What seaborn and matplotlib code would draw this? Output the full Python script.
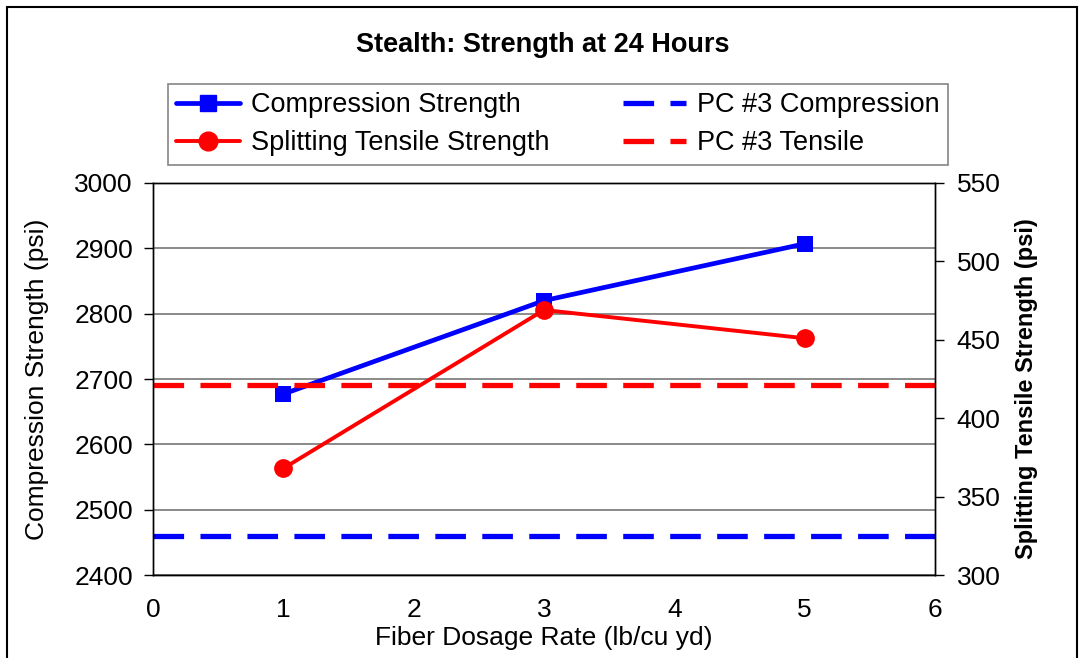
import pandas as pd
import seaborn as sns
import matplotlib.pyplot as plt
from matplotlib.patches import Rectangle
from matplotlib.lines import Line2D

# data
dosage = [1, 3, 5]
compression = [2677, 2820, 2907]
tensile = [368, 469, 451]
pc3_compression = [2460]
pc3_tensile = [421]

sns.set_style("white")
plt.rcParams['font.family'] = ['Liberation Sans', 'DejaVu Sans']
plt.rcParams['text.color'] = 'black'
plt.rcParams['axes.labelcolor'] = 'black'
plt.rcParams['xtick.color'] = 'black'
plt.rcParams['ytick.color'] = 'black'

df = pd.DataFrame({'dosage': dosage, 'compression': compression, 'tensile': tensile})

fig = plt.figure(figsize=(10.86, 6.58), dpi=100)
ax = fig.add_axes([0.1409, 0.1261, 0.7201, 0.5958])
ax2 = ax.twinx()

# grid on left axis
ax.set_ylim(2400, 3000)
ax.set_xlim(0, 6)
ax.set_yticks(range(2400, 3001, 100))
ax.set_xticks(range(0, 7))
ax.yaxis.grid(True, color='#777777', linewidth=1.2)
ax.set_axisbelow(True)
ax2.set_ylim(300, 550)
ax2.set_yticks(range(300, 551, 50))

dash = (5.8, 3.1)
ax2.axhline(pc3_tensile[0], color='#ff0000', linewidth=3.8, dashes=dash, zorder=2)
ax.axhline(pc3_compression[0], color='#0000ff', linewidth=3.8, dashes=dash, zorder=2)

sns.lineplot(data=df, x='dosage', y='compression', ax=ax, color='#0000ff',
             linewidth=3.4, marker='s', markersize=12, markeredgewidth=0, zorder=3)
sns.lineplot(data=df, x='dosage', y='tensile', ax=ax2, color='#ff0000',
             linewidth=2.8, marker='o', markersize=13.5, markeredgewidth=0, zorder=3)

for a in (ax, ax2):
    for s in a.spines.values():
        s.set_color('black')
        s.set_linewidth(1)
    a.tick_params(axis='both', labelsize=19, length=6.5, width=1, color='black',
                  direction='out')
ax.tick_params(axis='y', pad=8)
ax.tick_params(axis='x', pad=10)
ax2.tick_params(axis='y', pad=9)

ax.set_xlabel('Fiber Dosage Rate (lb/cu yd)', fontsize=19)
ax.xaxis.set_label_coords(0.5, -0.13)
ax.set_ylabel('Compression Strength (psi)', fontsize=19)
ax.yaxis.set_label_coords(-0.133, 0.5)
ax2.set_ylabel('Splitting Tensile Strength (psi)', fontsize=17, fontweight='bold')
ax2.yaxis.set_label_coords(1.102, 0.475)

fig.text(0.5, 0.932, 'Stealth: Strength at 24 Hours', ha='center', va='center',
         fontsize=19.5, fontweight='bold')

handles = [
    Line2D([], [], color='#0000ff', linewidth=3.4, marker='s', markersize=12),
    Line2D([], [], color='#ff0000', linewidth=2.8, marker='o', markersize=13.5),
    Line2D([], [], color='#0000ff', linewidth=3.8, dashes=dash),
    Line2D([], [], color='#ff0000', linewidth=3.8, dashes=dash),
]
labels = ['Compression Strength', 'Splitting Tensile Strength',
          'PC #3 Compression', 'PC #3 Tensile']
leg = fig.legend(handles, labels, ncol=2, loc='center', mode='expand',
                 bbox_to_anchor=(0.1547, 0.749, 0.7182, 0.124), borderaxespad=0,
                 fontsize=19.5, frameon=True, fancybox=False, edgecolor='#666666',
                 handlelength=2.35, handletextpad=0.4, columnspacing=0.5,
                 labelspacing=0.45, borderpad=0.3)
leg.get_frame().set_linewidth(1.2)

fig.patches.append(Rectangle((0.0064, -0.02), 0.9853, 1.009, transform=fig.transFigure,
                             fill=False, edgecolor='black', linewidth=1.5))

fig.savefig('out.png', dpi=100)
